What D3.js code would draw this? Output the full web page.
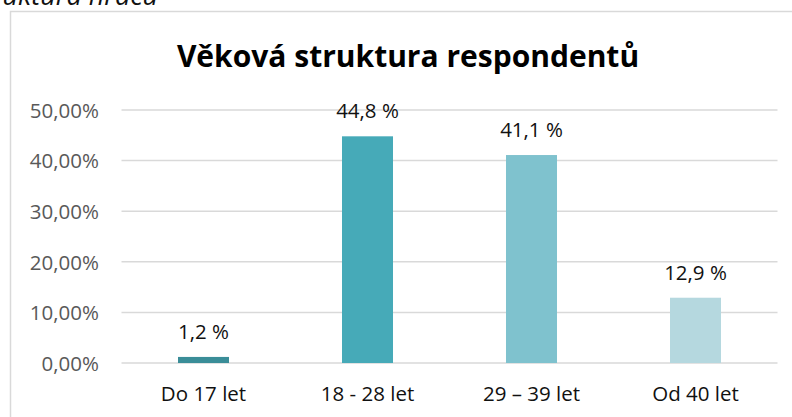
<!DOCTYPE html>
<html><head><meta charset="utf-8">
<script src="https://cdn.jsdelivr.net/npm/d3@7"></script>
<style>body{margin:0;background:#fff}svg{display:block}</style>
</head><body>
<script>
const categories = ["Do 17 let", "18 - 28 let", "29 – 39 let", "Od 40 let"];
const values = [1.2, 44.8, 41.1, 12.9];
const valueLabels = ["1,2 %", "44,8 %", "41,1 %", "12,9 %"];
const yTicks = [0, 10, 20, 30, 40, 50];
const colors = ["#3A8D98", "#46AAB8", "#7FC2CE", "#B5D8DF"];
const title = "Věková struktura respondentů";
const caption = "Obrázek 5: Věková struktura hráčů";

const W = 792, H = 417;
const svg = d3.select("body").append("svg").attr("width", W).attr("height", H);
const font = "'Open Sans', 'Noto Sans', sans-serif";

// caption (cut at top in the reference)
svg.append("text").attr("x", 0).attr("y", 5).attr("font-family", font)
  .attr("font-style", "italic").attr("font-size", 27).attr("fill", "#111")
  .attr("text-anchor", "end").attr("transform", "translate(158,0)").text(caption);

// chart frame
svg.append("rect").attr("x", 10.5).attr("y", 11.5).attr("width", 800).attr("height", 420)
  .attr("fill", "#fff").attr("stroke", "#d9d9d9").attr("stroke-width", 1.5);

const x = d3.scaleBand().domain(categories).range([121.5, 777.5]).paddingInner(0.689).paddingOuter(0.3445);
const y = d3.scaleLinear().domain([0, 50]).range([363, 110]);

// gridlines
svg.append("g").selectAll("line").data(yTicks).join("line")
  .attr("x1", 121.5).attr("x2", 777.5)
  .attr("y1", d => y(d)).attr("y2", d => y(d))
  .attr("stroke", "#d9d9d9").attr("stroke-width", 1.5);

// y axis labels
const yAxis = d3.axisLeft(y).tickValues(yTicks).tickSize(0).tickPadding(0)
  .tickFormat(d => d3.format(".2f")(d).replace(".", ",") + "%");
const gy = svg.append("g").attr("transform", "translate(99,0)").call(yAxis);
gy.select(".domain").remove();
gy.selectAll("text").attr("font-family", font).attr("font-size", 20.5).attr("fill", "#595959").attr("dy", "0.36em");

// bars
svg.append("g").selectAll("rect").data(values).join("rect")
  .attr("x", (d, i) => x(categories[i])).attr("width", x.bandwidth())
  .attr("y", d => y(d)).attr("height", d => y(0) - y(d))
  .attr("fill", (d, i) => colors[i]);

// value labels
svg.append("g").selectAll("text").data(values).join("text")
  .attr("x", (d, i) => x(categories[i]) + x.bandwidth() / 2)
  .attr("y", d => y(d) - 18)
  .attr("text-anchor", "middle").attr("font-family", font).attr("font-size", 20.5)
  .attr("fill", "#111").text((d, i) => valueLabels[i]);

// x axis labels
const xAxis = d3.axisBottom(x).tickSize(0).tickPadding(0);
const gx = svg.append("g").attr("transform", "translate(0,401)").call(xAxis);
gx.select(".domain").remove();
gx.selectAll("text").attr("font-family", font).attr("font-size", 20.5).attr("fill", "#111").attr("dy", "0");

// title
svg.append("text").attr("x", 408).attr("y", 67).attr("text-anchor", "middle")
  .attr("font-family", font).attr("font-weight", "bold").attr("font-size", 30)
  .attr("fill", "#000").text(title);
</script>
</body></html>
